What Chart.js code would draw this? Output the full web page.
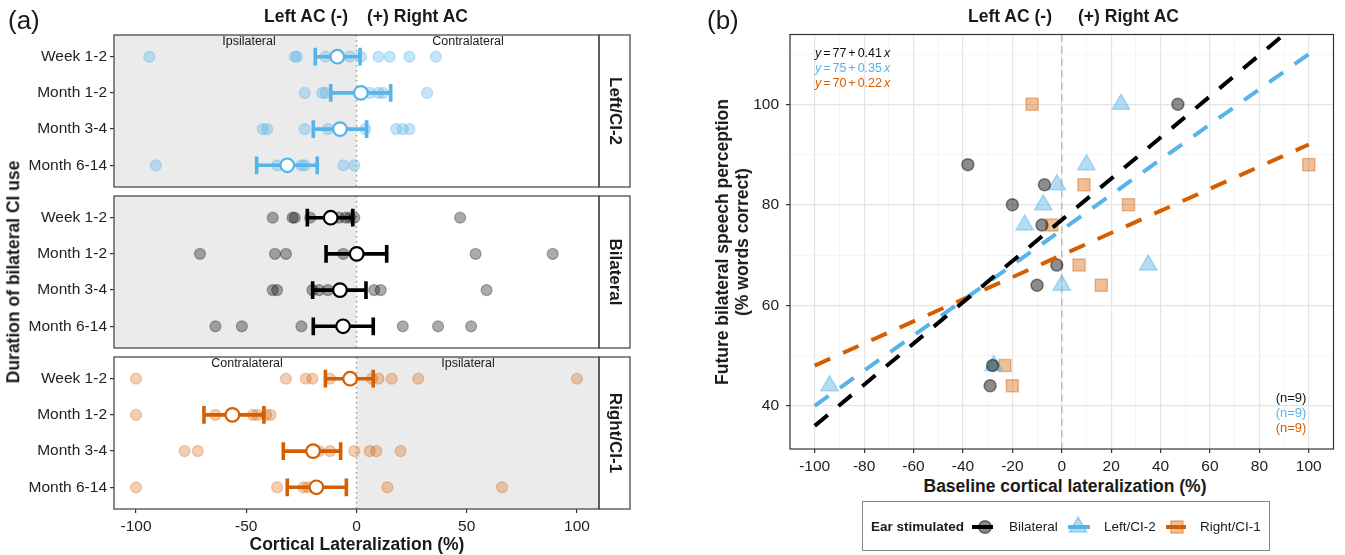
<!DOCTYPE html>
<html>
<head>
<meta charset="utf-8">
<title>Cortical lateralization and speech perception</title>
<script src="https://cdn.jsdelivr.net/npm/chart.js@4.4.1/dist/chart.umd.min.js"></script>
<style>
  body { margin: 0; background: #fff; font-family: "Liberation Sans", Arial, sans-serif; color: #1a1a1a; }
  #page { position: relative; width: 1345px; height: 555px; overflow: hidden; }
  canvas { position: absolute; }
  .lbl { position: absolute; white-space: nowrap; line-height: 1; }
  .b { font-weight: bold; }
  .up { transform: translate(-50%, -50%) rotate(-90deg); }
  .down { transform: translate(-50%, -50%) rotate(90deg); }
  .mid { transform: translate(-50%, -50%); }
  .rgt { transform: translate(-100%, -50%); }
  .lft { transform: translate(0, -50%); }
  #legendBox { position: absolute; left: 862px; top: 501px; width: 408px; height: 50px; box-sizing: border-box; border: 1px solid #8a8a8a; background: #fff; }
</style>
</head>
<body>
<div id="page">
  <canvas id="facet1" width="640" height="170" style="left:0;top:26px"></canvas>
  <canvas id="facet2" width="640" height="170" style="left:0;top:187px"></canvas>
  <canvas id="facet3" width="640" height="189" style="left:0;top:348px"></canvas>
  <canvas id="scatter" width="645" height="452" style="left:700px;top:23px"></canvas>
  <div id="legendBox"></div>
  <canvas id="legendKeys" width="408" height="50" style="left:862px;top:501px"></canvas>

  <div class="lbl lft" style="left:8px;top:20px;font-size:26px">(a)</div>
  <div class="lbl lft" style="left:707px;top:20px;font-size:26px">(b)</div>

  <div class="lbl b rgt" style="left:348px;top:17px;font-size:17.5px">Left AC (-)</div>
  <div class="lbl b lft" style="left:367px;top:17px;font-size:17.5px">(+) Right AC</div>
  <div class="lbl b rgt" style="left:1052px;top:17px;font-size:17.5px">Left AC (-)</div>
  <div class="lbl b lft" style="left:1078px;top:17px;font-size:17.5px">(+) Right AC</div>

  <div class="lbl mid" style="left:249px;top:41px;font-size:12.5px">Ipsilateral</div>
  <div class="lbl mid" style="left:468px;top:41px;font-size:12.5px">Contralateral</div>
  <div class="lbl mid" style="left:247px;top:363px;font-size:12.5px">Contralateral</div>
  <div class="lbl mid" style="left:468px;top:363px;font-size:12.5px">Ipsilateral</div>

  <div class="lbl b down" style="left:615px;top:111px;font-size:17px">Left/CI-2</div>
  <div class="lbl b down" style="left:615px;top:272px;font-size:17px">Bilateral</div>
  <div class="lbl b down" style="left:615px;top:433px;font-size:17px">Right/CI-1</div>

  <div class="lbl b up" style="left:14px;top:272px;font-size:17.5px">Duration of bilateral CI use</div>
  <div class="lbl b mid" style="left:357px;top:545px;font-size:17.5px">Cortical Lateralization (%)</div>

  <div class="lbl b up" style="left:732px;top:242px;font-size:17.5px;line-height:20px;text-align:center">Future bilateral speech perception<br>(% words correct)</div>
  <div class="lbl b mid" style="left:1065px;top:487px;font-size:17.5px">Baseline cortical lateralization (%)</div>

  <div class="lbl lft" style="left:815px;top:53px;font-size:12.5px;word-spacing:-1.5px;color:#111"><i>y</i> = 77 + 0.41 <i>x</i></div>
  <div class="lbl lft" style="left:815px;top:68px;font-size:12.5px;word-spacing:-1.5px;color:#56B4E9"><i>y</i> = 75 + 0.35 <i>x</i></div>
  <div class="lbl lft" style="left:815px;top:83px;font-size:12.5px;word-spacing:-1.5px;color:#D55E00"><i>y</i> = 70 + 0.22 <i>x</i></div>

  <div class="lbl mid" style="left:1291px;top:397px;font-size:13px;color:#111">(n=9)</div>
  <div class="lbl mid" style="left:1291px;top:412px;font-size:13px;color:#56B4E9">(n=9)</div>
  <div class="lbl mid" style="left:1291px;top:427px;font-size:13px;color:#D55E00">(n=9)</div>

  <div class="lbl b lft" style="left:871px;top:527px;font-size:13.5px">Ear stimulated</div>
  <div class="lbl lft" style="left:1009px;top:527px;font-size:13.5px">Bilateral</div>
  <div class="lbl lft" style="left:1104px;top:527px;font-size:13.5px">Left/CI-2</div>
  <div class="lbl lft" style="left:1200px;top:527px;font-size:13.5px">Right/CI-1</div>
</div>

<script>
const blue = '#56B4E9';
const orange = '#D55E00';

// rows of panel (a), top to bottom
const rowLabels = ['Week 1-2', 'Month 1-2', 'Month 3-4', 'Month 6-14'];
const lateralTicks = [-100, -50, 0, 50, 100];

// Left/CI-2: lateralization of each participant (%)
const leftWeek12 = [-94, -28, -27, -14, -3, 2, 10, 15, 24, 36];
const leftMonth12 = [-23.5, -15.5, -14, 3, 6, 10, 12, 32];
const leftMonth34 = [-42.5, -40.5, -23.5, -13, 4, 18, 21, 24];
const leftMonth614 = [-91, -36, -25, -23.5, -6, -1];
const leftMean = [-8.7, 2.0, -7.5, -31.4];
const leftLo = [-18.7, -11.7, -19.6, -45.3];
const leftHi = [1.6, 15.5, 4.6, -17.8];

// Bilateral
const bilWeek12 = [-38, -29, -28, -21, -8, -5, -3, -1, 47];
const bilMonth12 = [-71, -37, -32, -6, 54, 89];
const bilMonth34 = [-38, -36, -20, -17, -13, 8, 11, 59];
const bilMonth614 = [-64, -52, -25, 21, 37, 52];
const bilMean = [-11.7, 0.1, -7.5, -6.1];
const bilLo = [-22.3, -13.8, -19.9, -19.6];
const bilHi = [-1.7, 13.7, 4.3, 7.6];

// Right/CI-1
const rightWeek12 = [-100, -32, -23, -20, -12, 7, 10, 16, 28, 100];
const rightMonth12 = [-100, -64, -47, -45, -41, -39];
const rightMonth34 = [-78, -72, -17, -12, -1, 6, 9, 20];
const rightMonth614 = [-100, -36, -24, -22, 14, 66];
const rightMean = [-2.9, -56.3, -19.7, -18.2];
const rightLo = [-14.1, -69.2, -33.2, -31.4];
const rightHi = [7.6, -42, -7.2, -4.6];

// panel (b): baseline lateralization vs later speech score
const bilBaseX = [47, -38, -7, -20, -8, -2, -10, -28, -29];
const bilBaseY = [100, 88, 84, 80, 76, 68, 64, 48, 44];
const leftBaseX = [24, 10, -2, -7.5, -15, 35, 0, -94, -27.5];
const leftBaseY = [100, 88, 84, 80, 76, 68, 64, 44, 48];
const rightBaseX = [-12, 100, 9, 27, -4, 7, 16, -23, -20];
const rightBaseY = [100, 88, 84, 80, 76, 68, 64, 48, 44];

// fitted lines, read at both ends
const fitX = [-100, 100];
const bilFitY = [36, 118];
const leftFitY = [40, 110];
const rightFitY = [48, 92];

const baseTicksX = [-100, -90, -80, -70, -60, -50, -40, -30, -20, -10, 0, 10, 20, 30, 40, 50, 60, 70, 80, 90, 100];
const baseTicksY = [40, 50, 60, 70, 80, 90, 100, 110];

Chart.defaults.font.family = '"Liberation Sans", Arial, sans-serif';
const tickFont = { size: 15.5 };

function rowPoints(rows) {
  const pts = [];
  rows.forEach((vals, i) => vals.forEach(v => pts.push({ x: v, y: i })));
  return pts;
}

// horizontal bar + two caps per row, separated by gaps
function errorBarPoints(lo, hi) {
  const cap = 0.245;
  const pts = [];
  lo.forEach((l, i) => {
    const h = hi[i];
    pts.push({ x: l, y: i }, { x: h, y: i }, { x: h, y: null });
    pts.push({ x: l, y: i - cap }, { x: l, y: i + cap }, { x: l, y: null });
    pts.push({ x: h, y: i - cap }, { x: h, y: i + cap }, { x: h, y: null });
  });
  return pts;
}

// fix axis sizes so the plot areas land where the reference has them
function fixWidth(w) {
  return s => { s.width = w; s.paddingTop = 0; s.paddingBottom = 0; };
}
function fixHeight(h) {
  return s => { s.height = s.options.display ? h : 0; s.paddingLeft = 0; s.paddingRight = 0; };
}

const facetDecor = {
  id: 'facetDecor',
  beforeDatasetsDraw(chart, args, opts) {
    const { ctx, chartArea: a } = chart;
    const x0 = chart.scales.x.getPixelForValue(0);
    ctx.save();
    ctx.fillStyle = '#EBEBEB';
    if (opts.shadeLeft) ctx.fillRect(a.left, a.top, x0 - a.left, a.bottom - a.top);
    else ctx.fillRect(x0, a.top, a.right - x0, a.bottom - a.top);
    ctx.strokeStyle = '#9a9a9a';
    ctx.lineWidth = 1.5;
    ctx.setLineDash([1.5, 3.5]);
    ctx.beginPath();
    ctx.moveTo(x0, a.top);
    ctx.lineTo(x0, a.bottom);
    ctx.stroke();
    ctx.restore();
  },
  afterDraw(chart) {
    const { ctx, chartArea: a } = chart;
    ctx.save();
    ctx.strokeStyle = '#4a4a4a';
    ctx.lineWidth = 1.3;
    ctx.strokeRect(a.left, a.top, a.right - a.left, a.bottom - a.top);
    ctx.strokeRect(a.right, a.top, 31, a.bottom - a.top);
    ctx.restore();
  }
};

function drawFacet(id, f) {
  return new Chart(document.getElementById(id), {
    type: 'scatter',
    data: {
      datasets: [
        {
          data: f.mean.map((m, i) => ({ x: m, y: i })),
          pointRadius: 6.8, pointBackgroundColor: '#fff',
          pointBorderColor: f.color, pointBorderWidth: 2.2, order: 1
        },
        {
          type: 'line', data: errorBarPoints(f.lo, f.hi),
          borderColor: f.color, borderWidth: 3.6, borderCapStyle: 'butt',
          pointRadius: 0, spanGaps: false, order: 2
        },
        {
          data: rowPoints(f.rows),
          pointRadius: 5.5, pointBackgroundColor: f.fill,
          pointBorderColor: f.edge, pointBorderWidth: 1.2, order: 3
        }
      ]
    },
    options: {
      responsive: false, animation: false, events: [],
      layout: { padding: { top: 4, bottom: f.axis ? 0 : 4, left: 0, right: 41 } },
      plugins: {
        legend: { display: false }, tooltip: { enabled: false },
        facetDecor: { shadeLeft: f.shadeLeft }
      },
      scales: {
        x: {
          type: 'linear', min: -110, max: 110, display: f.axis,
          afterBuildTicks: s => { s.ticks = lateralTicks.map(v => ({ value: v })); },
          afterFit: fixHeight(28),
          grid: { drawOnChartArea: false, drawTicks: true, tickLength: 4, color: '#333', lineWidth: 1.2 },
          border: { display: false },
          ticks: { font: tickFont, color: '#222', padding: 4, autoSkip: false, maxRotation: 0 }
        },
        y: {
          type: 'linear', reverse: true, min: -0.6, max: 3.6,
          afterBuildTicks: s => { s.ticks = rowLabels.map((_, i) => ({ value: i })); },
          afterFit: fixWidth(114),
          grid: { drawOnChartArea: false, drawTicks: true, tickLength: 4, color: '#333', lineWidth: 1.2 },
          border: { display: false },
          ticks: { font: tickFont, color: '#222', padding: 3, autoSkip: false, callback: v => rowLabels[v] }
        }
      }
    },
    plugins: [facetDecor]
  });
}

drawFacet('facet1', {
  rows: [leftWeek12, leftMonth12, leftMonth34, leftMonth614],
  mean: leftMean, lo: leftLo, hi: leftHi, color: blue,
  fill: 'rgba(86,180,233,0.35)', edge: 'rgba(86,180,233,0.35)',
  shadeLeft: true, axis: false
});
drawFacet('facet2', {
  rows: [bilWeek12, bilMonth12, bilMonth34, bilMonth614],
  mean: bilMean, lo: bilLo, hi: bilHi, color: '#000',
  fill: 'rgba(0,0,0,0.33)', edge: 'rgba(0,0,0,0.3)',
  shadeLeft: true, axis: false
});
drawFacet('facet3', {
  rows: [rightWeek12, rightMonth12, rightMonth34, rightMonth614],
  mean: rightMean, lo: rightLo, hi: rightHi, color: orange,
  fill: 'rgba(213,94,0,0.3)', edge: 'rgba(213,94,0,0.3)',
  shadeLeft: false, axis: true
});

// panel (b)
const zeroLine = {
  id: 'zeroLine',
  beforeDatasetsDraw(chart) {
    const { ctx, chartArea: a } = chart;
    const x0 = chart.scales.x.getPixelForValue(0);
    ctx.save();
    ctx.strokeStyle = '#bdbdbd';
    ctx.lineWidth = 1.6;
    ctx.setLineDash([7, 5]);
    ctx.beginPath();
    ctx.moveTo(x0, a.top);
    ctx.lineTo(x0, a.bottom);
    ctx.stroke();
    ctx.restore();
  },
  afterDraw(chart) {
    const { ctx, chartArea: a } = chart;
    ctx.save();
    ctx.strokeStyle = '#333';
    ctx.lineWidth = 1.2;
    ctx.strokeRect(a.left, a.top, a.right - a.left, a.bottom - a.top);
    ctx.restore();
  }
};

const pairs = (xs, ys) => xs.map((x, i) => ({ x, y: ys[i] }));
const isMajor = v => Math.abs(v) % 20 === 0;

function fitLine(ys, color) {
  return {
    type: 'line', data: pairs(fitX, ys), borderColor: color, borderWidth: 4,
    borderDash: [17, 14], borderCapStyle: 'butt', pointRadius: 0, clip: 0, order: 1
  };
}

new Chart(document.getElementById('scatter'), {
  type: 'scatter',
  data: {
    datasets: [
      fitLine(bilFitY, '#000'),
      fitLine(leftFitY, blue),
      fitLine(rightFitY, orange),
      {
        data: pairs(bilBaseX, bilBaseY), pointStyle: 'circle', pointRadius: 6,
        pointBackgroundColor: 'rgba(0,0,0,0.45)', pointBorderColor: 'rgba(0,0,0,0.45)',
        pointBorderWidth: 1.5, order: 2
      },
      {
        data: pairs(leftBaseX, leftBaseY), pointStyle: 'triangle', pointRadius: 10,
        pointBackgroundColor: 'rgba(86,180,233,0.45)', pointBorderColor: 'rgba(86,180,233,0.45)',
        pointBorderWidth: 1.5, order: 2
      },
      {
        data: pairs(rightBaseX, rightBaseY), pointStyle: 'rect', pointRadius: 8.5,
        pointBackgroundColor: 'rgba(213,94,0,0.4)', pointBorderColor: 'rgba(213,94,0,0.4)',
        pointBorderWidth: 1.5, order: 2
      }
    ]
  },
  options: {
    responsive: false, animation: false, events: [],
    layout: { padding: { top: 4, bottom: 0, left: 0, right: 5 } },
    plugins: { legend: { display: false }, tooltip: { enabled: false } },
    scales: {
      x: {
        type: 'linear', min: -110, max: 110,
        afterBuildTicks: s => { s.ticks = baseTicksX.map(v => ({ value: v })); },
        afterFit: fixHeight(26),
        grid: {
          drawTicks: true, tickLength: 4,
          color: c => isMajor(c.tick.value) ? '#e4e4e4' : '#f0f0f0',
          lineWidth: c => isMajor(c.tick.value) ? 1.2 : 0.7,
          tickColor: c => isMajor(c.tick.value) ? '#333' : 'rgba(0,0,0,0)',
          tickWidth: 1.2
        },
        border: { display: false },
        ticks: { font: tickFont, color: '#222', padding: 4, autoSkip: false, maxRotation: 0,
                 callback: v => isMajor(v) ? String(v) : '' }
      },
      y: {
        type: 'linear', min: 31.4, max: 113.9,
        afterBuildTicks: s => { s.ticks = baseTicksY.map(v => ({ value: v })); },
        afterFit: fixWidth(90),
        grid: {
          drawTicks: true, tickLength: 4,
          color: c => isMajor(c.tick.value) ? '#e4e4e4' : '#f0f0f0',
          lineWidth: c => isMajor(c.tick.value) ? 1.2 : 0.7,
          tickColor: c => isMajor(c.tick.value) ? '#333' : 'rgba(0,0,0,0)',
          tickWidth: 1.2
        },
        border: { display: false },
        ticks: { font: tickFont, color: '#222', padding: 7, autoSkip: false,
                 callback: v => isMajor(v) ? String(v) : '' }
      }
    }
  },
  plugins: [zeroLine]
});

// legend keys: dash + marker
const lk = document.getElementById('legendKeys').getContext('2d');
function keyDash(x1, x2, color) {
  lk.strokeStyle = color;
  lk.lineWidth = 4;
  lk.beginPath();
  lk.moveTo(x1, 26);
  lk.lineTo(x2, 26);
  lk.stroke();
}
keyDash(110, 131, '#000');
lk.fillStyle = 'rgba(0,0,0,0.45)';
lk.strokeStyle = 'rgba(0,0,0,0.5)';
lk.lineWidth = 1.5;
lk.beginPath(); lk.arc(123, 26, 6.3, 0, Math.PI * 2); lk.fill(); lk.stroke();

keyDash(206, 228, blue);
lk.fillStyle = 'rgba(86,180,233,0.45)';
lk.strokeStyle = 'rgba(86,180,233,0.5)';
lk.lineWidth = 1.5;
lk.beginPath(); lk.moveTo(216, 16); lk.lineTo(224.7, 31); lk.lineTo(207.3, 31); lk.closePath(); lk.fill(); lk.stroke();

keyDash(304, 324, orange);
lk.fillStyle = 'rgba(213,94,0,0.4)';
lk.strokeStyle = 'rgba(213,94,0,0.45)';
lk.lineWidth = 1.5;
lk.beginPath(); lk.rect(309, 20, 12, 12); lk.fill(); lk.stroke();
</script>
</body>
</html>
